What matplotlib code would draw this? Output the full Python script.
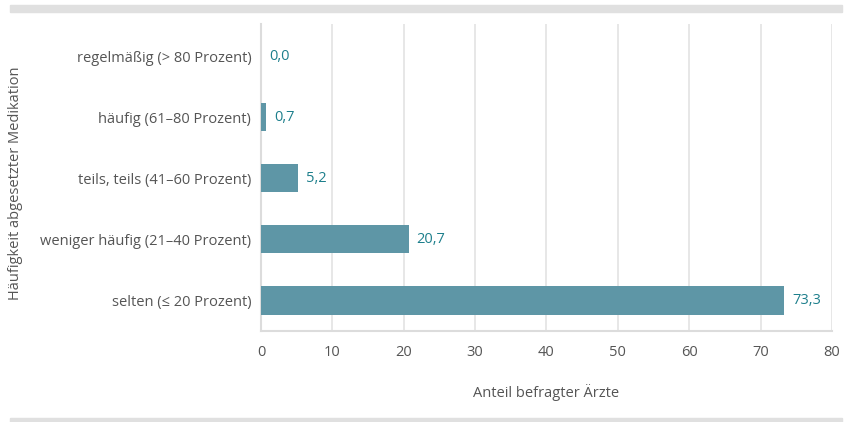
import matplotlib.pyplot as plt
from matplotlib.patches import Rectangle

categories = ['regelmäßig (> 80 Prozent)', 'häufig (61–80 Prozent)', 'teils, teils (41–60 Prozent)',
              'weniger häufig (21–40 Prozent)', 'selten (≤ 20 Prozent)']
values = [0.0, 0.7, 5.2, 20.7, 73.3]
xticks = [0, 10, 20, 30, 40, 50, 60, 70, 80]

plt.rcParams['font.family'] = ['Open Sans', 'DejaVu Sans']

bar_col = '#5e96a6'
txt_col = '#555555'
val_col = '#1d7f8c'
grid_col = '#e3e3e3'

fig = plt.figure(figsize=(8.48, 4.22), dpi=100)
ax = fig.add_axes([0.3078, 0.2156, 0.6733, 0.727])

y = list(range(len(categories)))
ax.barh(y, values, height=0.46, color=bar_col, zorder=3)
for yi, v in zip(y, values):
    ax.text(v + 1.1, yi, f'{v:.1f}'.replace('.', ','), va='center', ha='left',
            color=val_col, fontsize=10.5)

ax.set_yticks(y)
ax.set_yticklabels(categories)
ax.set_ylim(4.5, -0.52)
ax.set_xlim(0, 80)
ax.set_xticks(xticks)
ax.grid(axis='x', color=grid_col, lw=1.2, zorder=0)
ax.tick_params(length=0, labelsize=10.5, labelcolor=txt_col)
ax.tick_params(axis='x', pad=10)
ax.tick_params(axis='y', pad=7)
for s in ['top', 'right']:
    ax.spines[s].set_visible(False)
for s in ['left', 'bottom']:
    ax.spines[s].set_color('#dcdcdc')
    ax.spines[s].set_linewidth(1.5)

ax.set_xlabel('Anteil befragter Ärzte', color=txt_col, fontsize=10.5, labelpad=17)
fig.text(0.018, 0.566, 'Häufigkeit abgesetzter Medikation', rotation=90, va='center', ha='center',
         color=txt_col, fontsize=10.5)

# grey bands above and below the chart
fig.patches.append(Rectangle((10 / 848, 1 - 12 / 422), 832 / 848, 7 / 422, transform=fig.transFigure,
                             color='#e0e0e0', zorder=0))
fig.patches.append(Rectangle((10 / 848, 0), 832 / 848, 4 / 422, transform=fig.transFigure,
                             color='#e0e0e0', zorder=0))

fig.savefig('out.png', dpi=100)
